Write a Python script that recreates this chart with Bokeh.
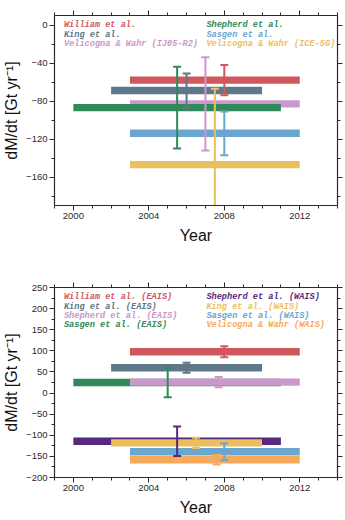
from bokeh.plotting import figure
from bokeh.models import (ColumnDataSource, LinearAxis, SingleIntervalTicker, Range1d,
                          CustomJSTickFormatter)
from bokeh.layouts import column
from bokeh.core.properties import value
from bokeh.embed import file_html
from bokeh.resources import INLINE

# ---- Antarctic ice sheet mass-balance estimates (whole AIS) ----
ais_labels = ["William et al.", "King et al.", "Velicogna & Wahr (IJ05-R2)",
              "Shepherd et al.", "Sasgen et al.", "Velicogna & Wahr (ICE-5G)"]
ais_start = [2003, 2002, 2003, 2000, 2003, 2003]
ais_end = [2012, 2010, 2012, 2011, 2012, 2012]
ais_rate = [-58, -69, -83, -87, -114, -147]
ais_err = [16, 18, 49, 43, 23, 80]
ais_err_year = [2008, 2006, 2007, 2005.5, 2008, 2007.5]

# ---- East / West Antarctic split ----
sub_labels = ["William et al. (EAIS)", "King et al. (EAIS)", "Shepherd et al. (EAIS)",
              "Sasgen et al. (EAIS)", "Shepherd et al. (WAIS)", "King et al. (WAIS)",
              "Sasgen et al. (WAIS)", "Velicogna & Wahr (WAIS)"]
sub_start = [2003, 2002, 2003, 2000, 2000, 2002, 2003, 2003]
sub_end = [2012, 2010, 2012, 2011, 2011, 2010, 2012, 2012]
sub_rate = [98, 60, 26, 25, -114, -118, -139, -158]
sub_err = [13, 12, 12, 35, 35, 12, 20, 11]
sub_err_year = [2008, 2006, 2007.7, 2005, 2005.5, 2006.5, 2008, 2007.6]

RED, SLATE, PINK, GREEN = "#d0585c", "#5f7889", "#cc97cc", "#2e8a5a"
BLUE, GOLD, PURPLE, ORANGE = "#6ba6cf", "#ecbf5e", "#55297f", "#f7a95b"
ais_colors = [RED, SLATE, PINK, GREEN, BLUE, GOLD]
sub_colors = [RED, SLATE, PINK, GREEN, PURPLE, GOLD, BLUE, ORANGE]
# bars drawn in this order so the later ones sit on top
sub_order = [0, 1, 3, 2, 4, 5, 6, 7]

SANS = "Liberation Sans"
MONO = "Liberation Mono"
INK = "#2a2a2a"
FRAME_H = 190


def style_axis(ax, show_labels=True):
    ax.axis_line_color = INK
    ax.axis_line_width = 1.2
    ax.major_tick_line_color = INK
    ax.minor_tick_line_color = INK
    ax.major_tick_in = 0
    ax.major_tick_out = 5
    ax.minor_tick_in = 0
    ax.minor_tick_out = 3
    ax.major_label_text_font = SANS
    ax.major_label_text_color = INK
    ax.major_label_text_font_size = "9.5px"
    if show_labels:
        ax.major_label_standoff = 2
        # typographic minus sign on negative ticks
        ax.formatter = CustomJSTickFormatter(
            code="return tick < 0 ? '\u2212' + Math.abs(tick) : String(tick);")
    else:
        ax.formatter = CustomJSTickFormatter(code="return ''")
        ax.major_label_standoff = 0


def panel(labels, start, end, rate, err, err_year, colors, order,
          y0, y1, y_step, bar_px, top_pad, bottom_pad, n_left):
    p = figure(width=345, height=FRAME_H + top_pad + bottom_pad,
               x_range=Range1d(1999, 2014), y_range=Range1d(y0, y1),
               output_backend="svg", toolbar_location=None,
               min_border_left=53, min_border_right=8,
               min_border_top=top_pad, min_border_bottom=bottom_pad)
    p.outline_line_color = None
    p.grid.visible = False
    p.background_fill_color = "white"
    p.border_fill_color = "white"

    px_per_unit = FRAME_H / (y1 - y0)

    p.xaxis.ticker = SingleIntervalTicker(interval=4, num_minor_ticks=4)
    p.yaxis.ticker = SingleIntervalTicker(interval=y_step, num_minor_ticks=2)
    style_axis(p.xaxis[0])
    style_axis(p.yaxis[0])
    p.xaxis.axis_label = "Year"
    p.yaxis.axis_label = "dM/dt [Gt yr\u207b\u00b9]"
    for ax in (p.xaxis[0], p.yaxis[0]):
        ax.axis_label_text_font = SANS
        ax.axis_label_text_font_size = "16px"
        ax.axis_label_text_font_style = "normal"
        ax.axis_label_text_color = "#111111"
    p.xaxis.axis_label_standoff = 5
    p.yaxis.axis_label_standoff = 3

    top_ax = LinearAxis(ticker=SingleIntervalTicker(interval=4, num_minor_ticks=4))
    right_ax = LinearAxis(ticker=SingleIntervalTicker(interval=y_step, num_minor_ticks=2))
    style_axis(top_ax, show_labels=False)
    style_axis(right_ax, show_labels=False)
    p.add_layout(top_ax, "above")
    p.add_layout(right_ax, "right")

    # horizontal bars: period covered by each estimate
    idx = order
    bars = ColumnDataSource(dict(
        y=[rate[i] for i in idx], left=[start[i] for i in idx],
        right=[end[i] for i in idx], color=[colors[i] for i in idx]))
    p.hbar(y="y", left="left", right="right", height=bar_px / px_per_unit,
           fill_color="color", line_color=None, source=bars)

    # error bars
    errs = ColumnDataSource(dict(
        x=err_year, hi=[r + e for r, e in zip(rate, err)],
        lo=[r - e for r, e in zip(rate, err)], color=colors))
    p.segment(x0="x", y0="lo", x1="x", y1="hi", line_color="color",
              line_width=2, source=errs)
    p.scatter(x="x", y="hi", marker="dash", size=8, line_color="color",
              line_width=2, source=errs)
    p.scatter(x="x", y="lo", marker="dash", size=8, line_color="color",
              line_width=2, source=errs)

    # two-column text key
    col_x = [1999.5, 2007.05]
    lx, ly = [], []
    for k in range(len(labels)):
        c = 0 if k < n_left else 1
        r = k if k < n_left else k - n_left
        lx.append(col_x[c])
        ly.append(y1 - (9.6 + 9.4 * r) / px_per_unit)
    key = ColumnDataSource(dict(x=lx, y=ly, text=labels, color=colors))
    p.text(x="x", y="y", text="text", text_color="color", source=key,
           text_font=value(MONO), text_font_style="bold italic",
           text_font_size="8.6px", text_baseline="middle", text_align="left")
    return p


p1 = panel(ais_labels, ais_start, ais_end, ais_rate, ais_err, ais_err_year,
           ais_colors, list(range(6)), -190, 10, 40, 7.4, 15, 55, 3)
p2 = panel(sub_labels, sub_start, sub_end, sub_rate, sub_err, sub_err_year,
           sub_colors, sub_order, -200, 250, 50, 7.4, 27, 43, 4)

layout = column(p1, p2, spacing=0)
open("out.html", "w").write(file_html(layout, INLINE))
